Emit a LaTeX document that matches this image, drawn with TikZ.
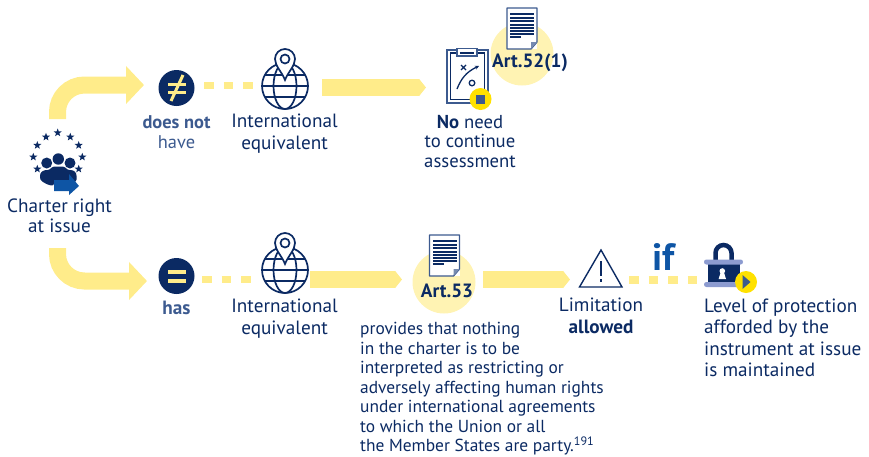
\documentclass[tikz,border=0pt]{standalone}
\usepackage{fontspec}
\setmainfont{PT Sans}
\usetikzlibrary{arrows.meta,shapes.geometric}
\definecolor{navy}{HTML}{0B2A63}
\definecolor{midblue}{HTML}{3C5A8F}
\definecolor{brightblue}{HTML}{0E55A5}
\definecolor{flowyellow}{HTML}{FFEC8A}
\definecolor{paleyellow}{HTML}{FFF3B3}
\definecolor{vivid}{HTML}{FFE100}
\definecolor{lockbar}{HTML}{8C9BD0}
\tikzset{
  txt/.style={text=navy,align=center,inner sep=0pt,font=\fontsize{19.2}{21.5}\selectfont},
  txtb/.style={txt,font=\fontsize{19.2}{20}\selectfont},
  mute/.style={txtb,text=midblue,font=\fontsize{18.4}{20}\selectfont},
  para/.style={text=navy,align=left,inner sep=0pt,anchor=north west,font=\fontsize{17.4}{19.55}\selectfont},
  curveflow/.style={draw=flowyellow,line width=17pt,rounded corners=27pt,-{Triangle[length=18pt,width=37pt]}},
  blockflow/.style={draw=flowyellow,line width=17pt,-{Triangle[length=7pt,width=17pt]}},
  dotflow/.style={draw=flowyellow,line width=7.5pt,dash pattern=on 9.5pt off 10pt},
  symb/.style={circle,fill=navy,minimum size=36pt,inner sep=0pt},
  blob/.style={circle,fill=paleyellow,inner sep=0pt},
  badge/.style={circle,fill=vivid,minimum size=22pt,inner sep=0pt},
  artlabel/.style={text=navy,inner sep=0pt,font=\fontsize{19.2}{20}\selectfont\bfseries},
  mapglobe/.pic={
    \draw[navy,line width=1.7pt] (0,0) circle[radius=23];
    \draw[navy,line width=1.7pt] (0,0) ellipse[x radius=11.5,y radius=23];
    \draw[navy,line width=1.7pt] (-23,0) -- (23,0) (-20,-11) -- (20,-11) (-20,11) -- (20,11);
    \draw[navy,line width=1.7pt,fill=white] (0,-6) .. controls (-3,-14) and (-10,-20) .. (-10,-27)
      arc[start angle=180,end angle=360,radius=10] .. controls (10,-20) and (3,-14) .. cycle;
    \draw[navy,line width=1.7pt] (0,-27) circle[radius=4.5];
  },
  textdoc/.pic={
    \fill[white] (0,0) rectangle (30,41);
    \draw[midblue,line width=1.3pt,line join=round] (0,0) -- (30,0) -- (30,34) -- (24,41) -- (0,41) -- cycle;
    \fill[midblue!70] (24,41) -- (30,34) -- (24,34) -- cycle;
    \foreach \yy in {5,8.5,12,15.5,19,22,25}{\fill[navy] (3,\yy) rectangle (27,\yy+2);}
    \fill[navy] (3,27.5) rectangle (14,29.5);
  }
}
\begin{document}
\begin{tikzpicture}[x=1pt,y=-1pt]
\useasboundingbox (0,0) rectangle (869,456);
% circles behind documents
\node[blob,minimum size=63pt] (artA) at (522,54) {};
\node[blob,minimum size=63pt] (artB) at (444,282) {};
% connector coordinates
\coordinate (cs) at (57.5,119);
\coordinate (ce) at (144,85);
\coordinate (ds) at (57.5,248);
\coordinate (de) at (147,281);
\coordinate (d1a) at (204,85.5);
\coordinate (d1b) at (252.5,85.5);
\coordinate (d2a) at (202,279.5);
\coordinate (d2b) at (251,279.5);
\coordinate (f1a) at (322,87.5);
\coordinate (f1b) at (426,87.5);
\coordinate (f2a) at (310,279.5);
\coordinate (f2b) at (402,279.5);
\coordinate (f3a) at (483,279.5);
\coordinate (f3b) at (570,279.5);
\coordinate (d3a) at (629,280);
\coordinate (d3b) at (697,280);
\draw[curveflow] (cs) |- (ce);
\draw[curveflow] (ds) |- (de);
\draw[dotflow] (d1a) -- (d1b);
\draw[dotflow] (d2a) -- (d2b);
\draw[dotflow] (d3a) -- (d3b);
\draw[blockflow] (f1a) -- (f1b);
\draw[blockflow] (f2a) -- (f2b);
\draw[blockflow] (f3a) -- (f3b);
% stars
\foreach \i/\sx/\sy in {1/57.7/132.7,2/46/137,3/70.3/137,4/37.3/145.3,5/78.7/145.3,6/33.3/157,7/82.3/157,8/37.3/169,9/78.7/169}{
  \node[star,star points=5,star point ratio=2.4,fill=navy,minimum size=8.5pt,inner sep=0pt] (star\i) at (\sx,\sy) {};
}
% people
\fill[navy] (46.7,163) circle[radius=5.5];
\fill[navy] (70,163) circle[radius=5.5];
\fill[navy] (58.3,159) circle[radius=5.7];
\fill[navy,rounded corners=2.5pt] (40,180) -- (40,173) -- (44,170) -- (50,170) -- (52,166.5) -- (65,166.5) -- (67,170) -- (73,170) -- (76.5,173) -- (76.5,182) -- (54,182) -- (54,186) -- (47,184.5) -- cycle;
\fill[brightblue] (54,180) -- (69,180) -- (69,174) -- (79,186) -- (69,195) -- (69,191) -- (54,191) -- cycle;
% symbols
\node[symb] (ne) at (176.5,88) {};
\fill[flowyellow] (168,82.5) rectangle (186,85.7);
\fill[flowyellow] (168,90.5) rectangle (186,93.7);
\draw[flowyellow,line width=3pt] (171,101) -- (183,75);
\node[symb] (eq) at (176.5,276) {};
\fill[flowyellow] (168,270) rectangle (186,274);
\fill[flowyellow] (168,279) rectangle (186,283);
% globes
\pic at (285,86) {mapglobe};
\pic at (285,270) {mapglobe};
% documents
\pic at (507,8) {textdoc};
\pic at (429.5,235) {textdoc};
% clipboard
\draw[midblue,line width=1.4pt,fill=white] (447,50) rectangle (488,103);
\draw[navy,line width=1.4pt] (450.5,53) rectangle (484.5,99.5);
\draw[midblue,line width=1.4pt,fill=white] (457,48.5) rectangle (477,56);
\fill[navy] (460,51.5) rectangle (474,53.5);
\draw[navy,line width=1.3pt] (461,65) -- (466,70) (466,65) -- (461,70);
\draw[navy,line width=1.3pt,-{Stealth[length=4pt,width=4pt]}] (457,89) .. controls (461,79) and (466,72) .. (479,66);
\draw[navy,line width=1.3pt] (472,83) circle[radius=2.8];
\node[badge] (stopb) at (480.5,99) {};
\fill[midblue] (476,95) rectangle (485,104);
% warning
\draw[navy,line width=1.4pt,line join=miter] (601,250) -- (622,287) -- (579.5,287) -- cycle;
\fill[navy] (599.8,261) rectangle (602.2,276);
\fill[navy] (599.8,278.5) rectangle (602.2,282);
% lock
\draw[navy,line width=4.5pt] (715.5,260) -- (715.5,253) arc[start angle=180,end angle=360,radius=8] -- (731.5,260);
\fill[navy] (708,262) rectangle (740,283);
\fill[lockbar,rounded corners=2.4pt] (704,259.5) rectangle (743,264.5);
\fill[lockbar,rounded corners=2.4pt] (704,282) rectangle (743,287);
\fill[white] (722.3,271) circle[radius=2.8];
\fill[white] (720.8,272) -- (723.8,272) -- (726,279) -- (718.6,279) -- cycle;
\node[badge] (playb) at (746,282) {};
\fill[midblue] (742.5,275) -- (750.5,282) -- (742.5,289) -- cycle;
% texts
\node[txtb] (right) at (59.5,216) {Charter right\\at issue};
\node[mute] (dn) at (176.5,132) {\textbf{does not}\\have};
\node[txt] (ie1) at (284.5,133.5) {International\\equivalent};
\node[txt,font=\fontsize{18.7}{19.6}\selectfont] (no) at (470,141.5) {\textbf{No} need\\to continue\\assessment};
\node[artlabel] (a52) at (530,63) {Art.52(1)};
\node[mute,font=\fontsize{19.2}{20}\selectfont\bfseries] (hs) at (176.5,308) {has};
\node[txt] (ie2) at (284.5,318.5) {International\\equivalent};
\node[artlabel] (a53) at (447,291) {Art.53};
\node[para] (pr) at (360,322) {provides that nothing\\in the charter is to be\\interpreted as restricting or\\adversely affecting human rights\\under international agreements\\to which the Union or all\\the Member States are party.\textsuperscript{191}};
\node[txt] (lim) at (601,316) {Limitation\\\textbf{allowed}};
\node[text=brightblue,inner sep=0pt,font=\fontsize{38}{38}\selectfont\bfseries] (iff) at (663.5,257) {if};
\node[txt,align=left,anchor=north west] (lev) at (704,298.5) {Level of protection\\afforded by the\\instrument at issue\\is maintained};
\end{tikzpicture}
\end{document}
